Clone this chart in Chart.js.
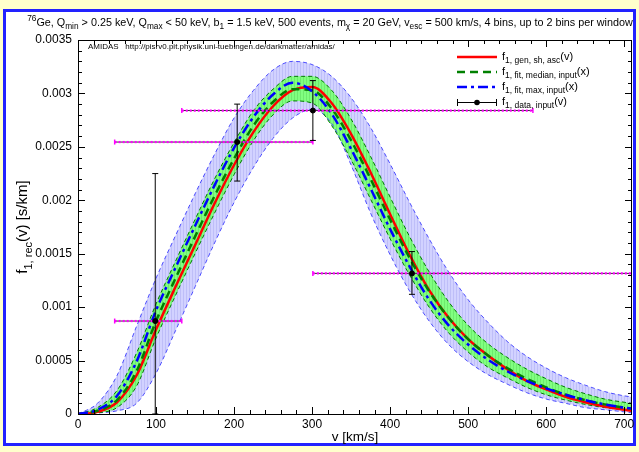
<!DOCTYPE html>
<html>
<head>
<meta charset="utf-8">
<script src="https://cdn.jsdelivr.net/npm/chart.js@4.4.1/dist/chart.umd.min.js"></script>
<style>
  body { margin: 0; background: #ffffcc; }
  canvas { display: block; }
</style>
</head>
<body>
<canvas id="chart" width="639" height="452"></canvas>
<script>
// velocity grid [km/s]
var speeds = [0, 25, 50, 75, 100, 125, 150, 175, 200, 225, 250, 275, 300, 325, 350, 375, 400, 425, 450, 475, 500, 525, 550, 575, 600, 625, 650, 675, 700, 710];

// f1,gen,sh,asc(v)  (red)
var fGen = [0, 0.00002, 0.00011, 0.00036, 0.00079, 0.00119, 0.00158, 0.00197, 0.00233, 0.00264, 0.00288, 0.00303, 0.00306, 0.00291, 0.00262, 0.00226, 0.00187, 0.00149, 0.00116, 0.0009, 0.0007, 0.00055, 0.00042, 0.00031, 0.00023, 0.00016, 0.00011, 0.00007, 0.00004, 0.00003];
// f1,fit,median,input(x)  (green dashed)
var fMedian = [0, 0.00003, 0.00013, 0.0004, 0.00087, 0.00127, 0.00166, 0.00204, 0.00239, 0.0027, 0.00292, 0.00304, 0.00303, 0.00286, 0.00256, 0.0022, 0.00182, 0.00146, 0.00115, 0.0009, 0.0007, 0.00055, 0.00043, 0.00033, 0.00025, 0.00018, 0.00013, 0.00009, 0.00006, 0.00005];
// f1,fit,max,input(x)  (blue dash-dot)
var fMax = [0, 0.00004, 0.00017, 0.00049, 0.00097, 0.00137, 0.00176, 0.00214, 0.00249, 0.00278, 0.00299, 0.0031, 0.00302, 0.00281, 0.00248, 0.00211, 0.00173, 0.00138, 0.00107, 0.00083, 0.00065, 0.00051, 0.0004, 0.00031, 0.00024, 0.00018, 0.00013, 0.00009, 0.00006, 0.00005];

// 1 sigma band (green)
var band1Upper = [0, 0.00006, 0.00022, 0.00057, 0.00103, 0.00143, 0.00182, 0.0022, 0.00254, 0.00284, 0.00304, 0.00316, 0.00316, 0.00303, 0.00276, 0.00241, 0.00203, 0.00166, 0.00133, 0.00105, 0.00083, 0.00066, 0.00053, 0.00042, 0.00033, 0.00025, 0.00019, 0.00014, 0.00011, 0.0001];
var band1Lower = [0, 0.00001, 0.00006, 0.00026, 0.00071, 0.00111, 0.0015, 0.00188, 0.00224, 0.00256, 0.0028, 0.00293, 0.00291, 0.0027, 0.00238, 0.00201, 0.00164, 0.0013, 0.001, 0.00076, 0.00058, 0.00044, 0.00034, 0.00025, 0.00018, 0.00013, 0.00009, 0.00006, 0.00004, 0.00003];
// 2 sigma band (blue)
var band2Upper = [0, 0.0001, 0.00036, 0.00082, 0.00127, 0.00167, 0.00206, 0.00243, 0.00277, 0.00303, 0.00322, 0.0033, 0.00327, 0.00316, 0.00296, 0.00268, 0.00234, 0.00198, 0.00164, 0.00133, 0.00107, 0.00086, 0.00068, 0.00054, 0.00043, 0.00034, 0.00027, 0.00021, 0.00017, 0.00016];
var band2Lower = [0, 0.00001, 0.00003, 0.0001, 0.00038, 0.00078, 0.00119, 0.0016, 0.00198, 0.00231, 0.00258, 0.00277, 0.00285, 0.00272, 0.00233, 0.00188, 0.00149, 0.00115, 0.00087, 0.00065, 0.00049, 0.00037, 0.00028, 0.0002, 0.00014, 0.0001, 0.00006, 0.00004, 0.00002, 0.00001];

// reconstructed points f1,data,input(v)
var pointV = [99, 204, 301, 428];
var pointF = [0.00087, 0.002545, 0.00284, 0.001316];
var pointLow = [0, 0.00218, 0.00256, 0.00112];
var pointHigh = [0.00225, 0.0029, 0.00312, 0.00152];
var windowFrom = [47, 47, 133, 301];
var windowTo = [133, 301, 583, 800];

// axes
var xTicks = [0, 100, 200, 300, 400, 500, 600, 700];
var yTicks = [0, 0.0005, 0.001, 0.0015, 0.002, 0.0025, 0.003, 0.0035];
var xMax = 710;
var yMax = 0.0035;

var FONT = '"Liberation Sans", Arial, Helvetica, sans-serif';

function toPoints(xs, ys) {
  return xs.map(function (x, i) { return { x: x, y: ys[i] }; });
}

function makePattern(base, stripe) {
  var c = document.createElement('canvas');
  c.width = 3; c.height = 3;
  var g = c.getContext('2d');
  g.fillStyle = base; g.fillRect(0, 0, 3, 3);
  g.fillStyle = stripe; g.fillRect(0, 0, 1, 3);
  return g.createPattern(c, 'repeat');
}

var bluePattern = makePattern('rgb(210,210,255)', 'rgb(190,190,248)');
var greenPattern = makePattern('rgb(128,255,128)', 'rgb(110,234,110)');

function curve(label, ys, color, width, dash, order) {
  return {
    label: label,
    data: toPoints(speeds, ys),
    showLine: true,
    borderColor: color,
    borderWidth: width,
    borderDash: dash,
    pointRadius: 0,
    cubicInterpolationMode: 'monotone',
    fill: false,
    order: order
  };
}

var datasets = [];
var b2u = curve('band2 upper', band2Upper, '#4d4dff', 1, [4, 3], 20);
b2u.fill = '+1'; b2u.backgroundColor = bluePattern;
datasets.push(b2u);
datasets.push(curve('band2 lower', band2Lower, '#4d4dff', 1, [4, 3], 19));
var b1u = curve('band1 upper', band1Upper, '#007a00', 1, [4, 3], 18);
b1u.fill = '+1'; b1u.backgroundColor = greenPattern;
datasets.push(b1u);
datasets.push(curve('band1 lower', band1Lower, '#007a00', 1, [4, 3], 17));
datasets.push(curve('gen', fGen, '#ff0000', 2.5, [], 12));
datasets.push(curve('median', fMedian, '#008000', 2.5, [8, 5], 11));
datasets.push(curve('max', fMax, '#0000ff', 2.5, [10, 4, 3, 4], 10));

// horizontal window bars and vertical error bars
for (var i = 0; i < pointV.length; i++) {
  var seg = [{ x: windowFrom[i], y: pointF[i] }, { x: windowTo[i], y: pointF[i] }];
  datasets.push({
    data: seg, showLine: true, borderColor: '#333333', borderWidth: 1,
    pointRadius: 0, order: 6
  });
  datasets.push({
    data: seg, showLine: true, borderColor: '#ff00ff', borderWidth: 2.2,
    borderDash: [2, 2], pointStyle: 'line', rotation: 90, pointRadius: 2.5,
    pointBorderColor: '#ff00ff', pointBorderWidth: 1.5, order: 5
  });
  datasets.push({
    data: [{ x: pointV[i], y: pointLow[i] }, { x: pointV[i], y: pointHigh[i] }],
    showLine: true, borderColor: '#000000', borderWidth: 1,
    pointStyle: 'line', pointRadius: 3, pointBorderColor: '#000000',
    pointBorderWidth: 1, order: 3
  });
}
datasets.push({
  data: toPoints(pointV, pointF), showLine: false, pointStyle: 'circle',
  pointRadius: 2.5, pointBackgroundColor: '#000000', pointBorderColor: '#000000',
  order: 1
});

// text with sub/superscripts, parts = [[text, 'sub'|'sup'|undefined], ...]
function richWidth(ctx, parts, fs, ss) {
  var w = 0;
  parts.forEach(function (p) {
    ctx.font = (p[1] ? ss : fs) + 'px ' + FONT;
    w += ctx.measureText(p[0]).width;
  });
  return w;
}
function drawRich(ctx, parts, x, y, fs, ss) {
  parts.forEach(function (p) {
    var dy = p[1] === 'sub' ? fs * 0.3 : (p[1] === 'sup' ? -fs * 0.42 : 0);
    ctx.font = (p[1] ? ss : fs) + 'px ' + FONT;
    ctx.fillText(p[0], x, y + dy);
    x += ctx.measureText(p[0]).width;
  });
}

var titleParts = [['76', 'sup'], ['Ge, Q'], ['min', 'sub'], [' > 0.25 keV, Q'], ['max', 'sub'], [' < 50 keV, b'], ['1', 'sub'],
  [' = 1.5 keV, 500 events, m'], ['\u03c7', 'sub'], [' = 20 GeV, v'], ['esc', 'sub'], [' = 500 km/s, 4 bins, up to 2 bins per window']];
var yTitleParts = [['f'], ['1, rec', 'sub'], ['(v) [s/km]']];
var legendParts = [
  [['f'], ['1, gen, sh, asc', 'sub'], ['(v)']],
  [['f'], ['1, fit, median, input', 'sub'], ['(x)']],
  [['f'], ['1, fit, max, input', 'sub'], ['(x)']],
  [['f'], ['1, data, input', 'sub'], ['(v)']]
];

var framePlugin = {
  id: 'frame',
  beforeDraw: function (chart) {
    var ctx = chart.ctx;
    ctx.save();
    ctx.fillStyle = '#ffffcc';
    ctx.fillRect(0, 0, chart.width, chart.height);
    ctx.fillStyle = '#ffffff';
    ctx.fillRect(5, 11, 630, 433);
    ctx.strokeStyle = '#2222ff';
    ctx.lineWidth = 3;
    ctx.strokeRect(4.5, 10.5, 630, 434);
    ctx.restore();
  },
  afterDatasetsDraw: function (chart) {
    var ctx = chart.ctx, a = chart.chartArea;
    var xs = chart.scales.x, ys = chart.scales.y;
    ctx.save();
    ctx.strokeStyle = '#000000';
    ctx.lineWidth = 1;
    ctx.strokeRect(a.left + 0.5, a.top + 0.5, a.right - a.left - 1, a.bottom - a.top);
    ctx.beginPath();
    var v, p, len;
    for (v = 0; v <= xMax; v += 20) {
      p = Math.round(xs.getPixelForValue(v)) + 0.5;
      len = v % 100 === 0 ? 7 : 4;
      ctx.moveTo(p, a.bottom); ctx.lineTo(p, a.bottom - len);
      ctx.moveTo(p, a.top); ctx.lineTo(p, a.top + len);
    }
    for (var k = 0; k <= 35; k++) {
      p = Math.round(ys.getPixelForValue(k * 0.0001)) + 0.5;
      len = k % 5 === 0 ? 7 : 4;
      ctx.moveTo(a.left, p); ctx.lineTo(a.left + len, p);
      ctx.moveTo(a.right, p); ctx.lineTo(a.right - len, p);
    }
    ctx.stroke();

    ctx.fillStyle = '#000000';
    ctx.textBaseline = 'alphabetic';
    // title
    var tw = richWidth(ctx, titleParts, 10.8, 8.3);
    drawRich(ctx, titleParts, 330 - tw / 2, 26, 10.8, 8.3);
    // axis titles
    ctx.font = '13.5px ' + FONT;
    ctx.textAlign = 'center';
    ctx.fillText('v [km/s]', (a.left + a.right) / 2, 441);
    ctx.textAlign = 'left';
    ctx.save();
    ctx.translate(27, (a.top + a.bottom) / 2);
    ctx.rotate(-Math.PI / 2);
    var yw = richWidth(ctx, yTitleParts, 15, 11);
    drawRich(ctx, yTitleParts, -yw / 2, 0, 15, 11);
    ctx.restore();
    // AMIDAS note
    ctx.font = '8px ' + FONT;
    ctx.fillText('AMIDAS   http://pisrv0.pit.physik.uni-tuebingen.de/darkmatter/amidas/', a.left + 10, a.top + 9);

    // legend
    var lx0 = 457, lx1 = 497, rows = [57, 72, 87, 102];
    var styles = [
      { c: '#ff0000', d: [] }, { c: '#008000', d: [8, 5] }, { c: '#0000ff', d: [10, 4, 3, 4] }
    ];
    for (var r = 0; r < 4; r++) {
      ctx.beginPath();
      if (r < 3) {
        ctx.strokeStyle = styles[r].c;
        ctx.lineWidth = 2.5;
        ctx.setLineDash(styles[r].d);
        ctx.moveTo(lx0, rows[r]); ctx.lineTo(lx1, rows[r]);
        ctx.stroke();
      } else {
        ctx.strokeStyle = '#000000';
        ctx.lineWidth = 1;
        ctx.setLineDash([]);
        ctx.moveTo(lx0, rows[r] + 0.5); ctx.lineTo(lx1, rows[r] + 0.5);
        ctx.moveTo(lx0 + 0.5, rows[r] - 3); ctx.lineTo(lx0 + 0.5, rows[r] + 4);
        ctx.moveTo(lx1 - 0.5, rows[r] - 3); ctx.lineTo(lx1 - 0.5, rows[r] + 4);
        ctx.stroke();
        ctx.beginPath();
        ctx.arc((lx0 + lx1) / 2, rows[r] + 0.5, 2.8, 0, Math.PI * 2);
        ctx.fill();
      }
      ctx.setLineDash([]);
      drawRich(ctx, legendParts[r], 502, rows[r] + 3, 11, 8.5);
    }
    ctx.restore();
  }
};

new Chart(document.getElementById('chart'), {
  type: 'scatter',
  data: { datasets: datasets },
  plugins: [framePlugin],
  options: {
    responsive: false,
    animation: false,
    devicePixelRatio: 1,
    layout: { padding: { left: 0, right: 7, top: 40, bottom: 0 } },
    scales: {
      x: {
        type: 'linear', min: 0, max: xMax,
        afterFit: function (s) { s.height = 38; },
        afterBuildTicks: function (s) { s.ticks = xTicks.map(function (v) { return { value: v }; }); },
        grid: { display: false, drawTicks: false },
        border: { display: false },
        ticks: {
          maxRotation: 0, padding: 3, autoSkip: false,
          color: '#000000', font: { family: FONT, size: 12 }
        }
      },
      y: {
        type: 'linear', min: 0, max: yMax,
        afterFit: function (s) { s.width = 78; },
        afterBuildTicks: function (s) { s.ticks = yTicks.map(function (v) { return { value: v }; }); },
        grid: { display: false, drawTicks: false },
        border: { display: false },
        ticks: {
          padding: 6, color: '#000000', autoSkip: false,
          font: { family: FONT, size: 12 },
          callback: function (v) { return String(+v.toFixed(4)); }
        }
      }
    },
    plugins: {
      legend: { display: false },
      tooltip: { enabled: false },
      filler: { drawTime: 'beforeDatasetsDraw' }
    }
  }
});
</script>
</body>
</html>
